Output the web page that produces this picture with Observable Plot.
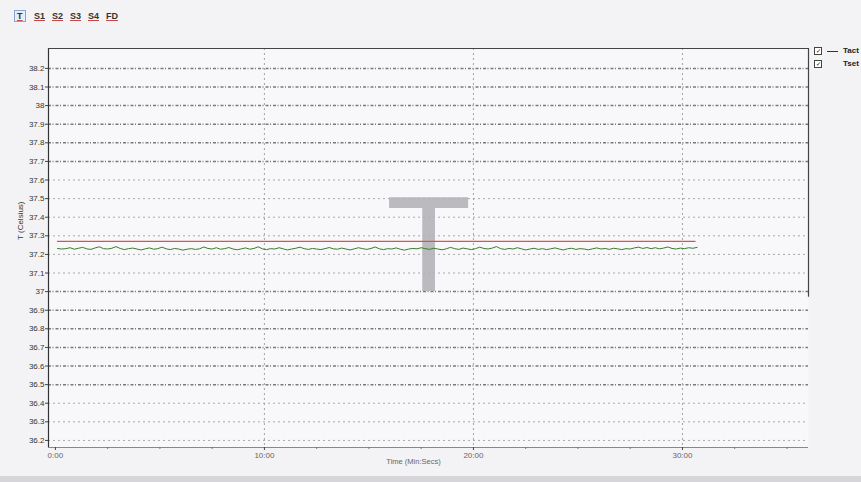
<!DOCTYPE html>
<html>
<head>
<meta charset="utf-8">
<script src="https://cdn.jsdelivr.net/npm/d3@7"></script>
<script src="https://cdn.jsdelivr.net/npm/@observablehq/plot@0.6"></script>
<style>
  html, body { margin: 0; padding: 0; }
  body { width: 861px; height: 482px; background: #f3f3f5; position: relative; overflow: hidden;
         font-family: "Liberation Sans", Arial, sans-serif; }
  #chart { position: absolute; left: 0; top: 0; }
  .tb { position: absolute; top: 11px; font-size: 9px; font-weight: bold; color: #333;
        text-decoration: underline; text-decoration-color: #c44; }
  .tb.sel { border: 1px solid #8aa6d0; background: #e4ecf8; padding: 0 2px; top: 10px; }
  .lg { position: absolute; font-size: 8px; font-weight: bold; color: #222; }
  .cb { position: absolute; width: 6px; height: 6px; border: 1px solid #444; background: #fff; font-size: 6px; line-height: 6px; text-align: center; }
  #bottomband { position: absolute; left: 0; top: 476px; width: 861px; height: 6px; background: #d6d6da; }
</style>
</head>
<body>
<div id="chart"></div>
<div id="bottomband"></div>
<script>
// ---- data ----
const toolbarLabels = ["T", "S1", "S2", "S3", "S4", "FD"];
const seriesNames = ["Tact", "Tset"];
const yTicks = [36.2, 36.3, 36.4, 36.5, 36.6, 36.7, 36.8, 36.9, 37.0, 37.1, 37.2, 37.3, 37.4, 37.5, 37.6, 37.7, 37.8, 37.9, 38.0, 38.1, 38.2];
const heavyGrid = [36.5, 36.6, 36.7, 36.8, 36.9, 37.0, 37.7, 37.8, 37.9, 38.0, 38.1, 38.2];
const lightGrid = [36.2, 36.3, 36.4, 37.1, 37.2, 37.3, 37.4, 37.5, 37.6];
const xTicks = [0, 10, 20, 30];
const xMinorTicks = [2.5, 5, 7.5, 12.5, 15, 17.5, 22.5, 25, 27.5, 32.5, 35];
const xGrid = [10, 20, 30];
const sampleStep = 0.2; // minutes between samples
const tact = [37.232,37.229,37.231,37.236,37.228,37.233,37.238,37.230,37.227,37.235,37.241,37.231,37.229,37.233,37.242,37.232,37.226,37.231,37.234,37.229,37.224,37.230,37.235,37.228,37.231,37.239,37.230,37.226,37.232,37.229,37.223,37.228,37.231,37.227,37.230,37.240,37.232,37.229,37.236,37.228,37.231,37.237,37.229,37.225,37.230,37.235,37.228,37.232,37.241,37.230,37.226,37.231,37.229,37.236,37.230,37.224,37.229,37.233,37.239,37.231,37.227,37.232,37.229,37.226,37.231,37.237,37.230,37.228,37.234,37.229,37.224,37.230,37.236,37.231,37.227,37.232,37.240,37.230,37.226,37.231,37.229,37.235,37.228,37.223,37.229,37.232,37.230,37.236,37.231,37.227,37.233,37.229,37.225,37.230,37.238,37.231,37.227,37.234,37.230,37.226,37.231,37.239,37.232,37.229,37.234,37.242,37.231,37.227,37.232,37.229,37.236,37.230,37.224,37.229,37.233,37.227,37.231,37.226,37.230,37.235,37.229,37.224,37.230,37.233,37.227,37.231,37.229,37.225,37.230,37.235,37.229,37.232,37.227,37.233,37.230,37.226,37.231,37.229,37.235,37.239,37.232,37.237,37.231,37.236,37.230,37.234,37.240,37.232,37.229,37.234,37.231,37.236,37.233,37.238];
const tsetValue = 37.27;
const tsetStart = 0.1, tsetEnd = 30.6;
const xDomain = [-0.33, 36.03];
const yDomain = [36.162, 38.307];

const tactData = tact.map((v, i) => ({t: 0.1 + i * sampleStep, v}));
const tsetData = [{t: tsetStart, v: tsetValue}, {t: tsetEnd, v: tsetValue}];

const fmtY = d => String(+d.toFixed(1));
const fmtX = d => d + ":00";

const chart = Plot.plot({
  width: 861,
  height: 482,
  marginLeft: 48,
  marginRight: 53,
  marginTop: 48,
  marginBottom: 35,
  style: {background: "transparent", fontFamily: "Liberation Sans, Arial, sans-serif", fontSize: "8px", color: "#444"},
  x: {type: "linear", domain: xDomain},
  y: {type: "linear", domain: yDomain},
  marks: [
    Plot.frame({fill: "#f8f8fa", stroke: "none"}),
    Plot.ruleY(lightGrid, {stroke: "#a0a0a4", strokeDasharray: "2,3", strokeWidth: 0.9}),
    Plot.ruleY(heavyGrid, {stroke: "#7a7a7e", strokeDasharray: "3,1.5,1,2", strokeWidth: 1.5}),
    Plot.ruleX(xGrid, {stroke: "#9a9a9e", strokeDasharray: "2,3", strokeWidth: 0.9}),
    Plot.text(["T"], {frameAnchor: "middle", dy: 2, fontSize: 128, fontFamily: "DejaVu Sans, sans-serif", fill: "#b3b3b8", fillOpacity: 0.9}),
    Plot.line(tsetData, {x: "t", y: "v", stroke: "#d9534f", strokeWidth: 1.3}),
    Plot.line(tactData, {x: "t", y: "v", stroke: "#3d7a2c", strokeWidth: 1}),
    Plot.ruleX([xDomain[0]], {stroke: "#333", strokeWidth: 1.2}),
    Plot.ruleY([yDomain[1]], {stroke: "#444", strokeWidth: 1.2}),
    Plot.ruleX([xDomain[1]], {y1: 36.97, y2: yDomain[1], stroke: "#444", strokeWidth: 1.2}),
    Plot.ruleY([yDomain[0]], {stroke: "#888", strokeWidth: 1}),
    Plot.axisY({ticks: yTicks, tickFormat: fmtY, tickSize: 3, tickPadding: 1, label: null, fill: "#333", fontSize: 8}),
    Plot.axisX({ticks: xTicks, tickFormat: fmtX, tickSize: 3, tickPadding: 2, label: null, fill: "#666", fontSize: 8}),
    Plot.axisX({ticks: xMinorTicks, tickFormat: () => "", tickSize: 2, label: null, stroke: "#777"}),
    Plot.text(["T (Celsius)"], {frameAnchor: "left", dx: -28, dy: -8, rotate: -90, fontSize: 8, fill: "#333"}),
    Plot.text(["Time (Min:Secs)"], {frameAnchor: "bottom", dx: -15, dy: 16, fontSize: 7.5, fill: "#666"})
  ]
});
document.getElementById("chart").appendChild(chart);

// toolbar
const tbX = [14, 34, 52, 70, 88, 106];
toolbarLabels.forEach((lab, i) => {
  const s = document.createElement("span");
  s.className = "tb" + (i === 0 ? " sel" : "");
  s.style.left = tbX[i] + "px";
  s.textContent = lab;
  document.body.appendChild(s);
});

// legend
seriesNames.forEach((name, i) => {
  const y = 47 + i * 13;
  const cb = document.createElement("div");
  cb.className = "cb";
  cb.style.left = "814px"; cb.style.top = y + "px";
  cb.textContent = "✓";
  document.body.appendChild(cb);
  if (i === 0) {
    const ln = document.createElement("div");
    ln.style.cssText = "position:absolute;left:827px;top:" + (y + 4) + "px;width:11px;height:1px;background:#333;";
    document.body.appendChild(ln);
  }
  const t = document.createElement("span");
  t.className = "lg";
  t.style.left = "843px"; t.style.top = (y - 1) + "px";
  t.textContent = name;
  document.body.appendChild(t);
});
</script>
</body>
</html>
